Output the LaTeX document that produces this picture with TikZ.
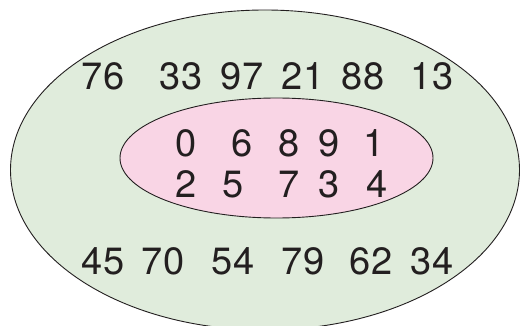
\documentclass[tikz,border=0pt]{standalone}
\usepackage{fontspec}
\setmainfont{TeX Gyre Heros}
\definecolor{outerfill}{HTML}{E0ECDC}
\definecolor{innerfill}{HTML}{F9D5E5}
\definecolor{txt}{HTML}{231F20}
\begin{document}
\begin{tikzpicture}[x=1pt,y=-1pt,
  num/.style={anchor=base,inner sep=0pt,text=txt,font=\fontsize{38}{40}\selectfont}]
\useasboundingbox (0,0) rectangle (520,326);
\clip (0,0) rectangle (520,326);
\fill[white] (0,0) rectangle (520,326);
\filldraw[fill=outerfill,draw=txt,line width=0.9pt] (265,170) ellipse [x radius=254.5, y radius=160];
\filldraw[fill=innerfill,draw=txt,line width=0.9pt] (276.5,158) ellipse [x radius=156.5, y radius=60];
% top row
\node[num] (a76) at (103,90) {76};
\node[num] (a33) at (181,90) {33};
\node[num] (a97) at (242,90) {97};
\node[num] (a21) at (303,90) {21};
\node[num] (a88) at (363,90) {88};
\node[num] (a13) at (432,90) {13};
% inner rows
\node[num] (b0) at (186,157) {0};
\node[num] (b6) at (242,157) {6};
\node[num] (b8) at (289,157) {8};
\node[num] (b9) at (329,157) {9};
\node[num] (b1) at (374,157) {1};
\node[num] (c2) at (186,198) {2};
\node[num] (c5) at (233,198) {5};
\node[num] (c7) at (289,198) {7};
\node[num] (c3) at (329,198) {3};
\node[num] (c4) at (377,198) {4};
% bottom row
\node[num] (d45) at (103,275) {45};
\node[num] (d70) at (163,275) {70};
\node[num] (d54) at (233,275) {54};
\node[num] (d79) at (303,275) {79};
\node[num] (d62) at (371,275) {62};
\node[num] (d34) at (432,275) {34};
\end{tikzpicture}
\end{document}
